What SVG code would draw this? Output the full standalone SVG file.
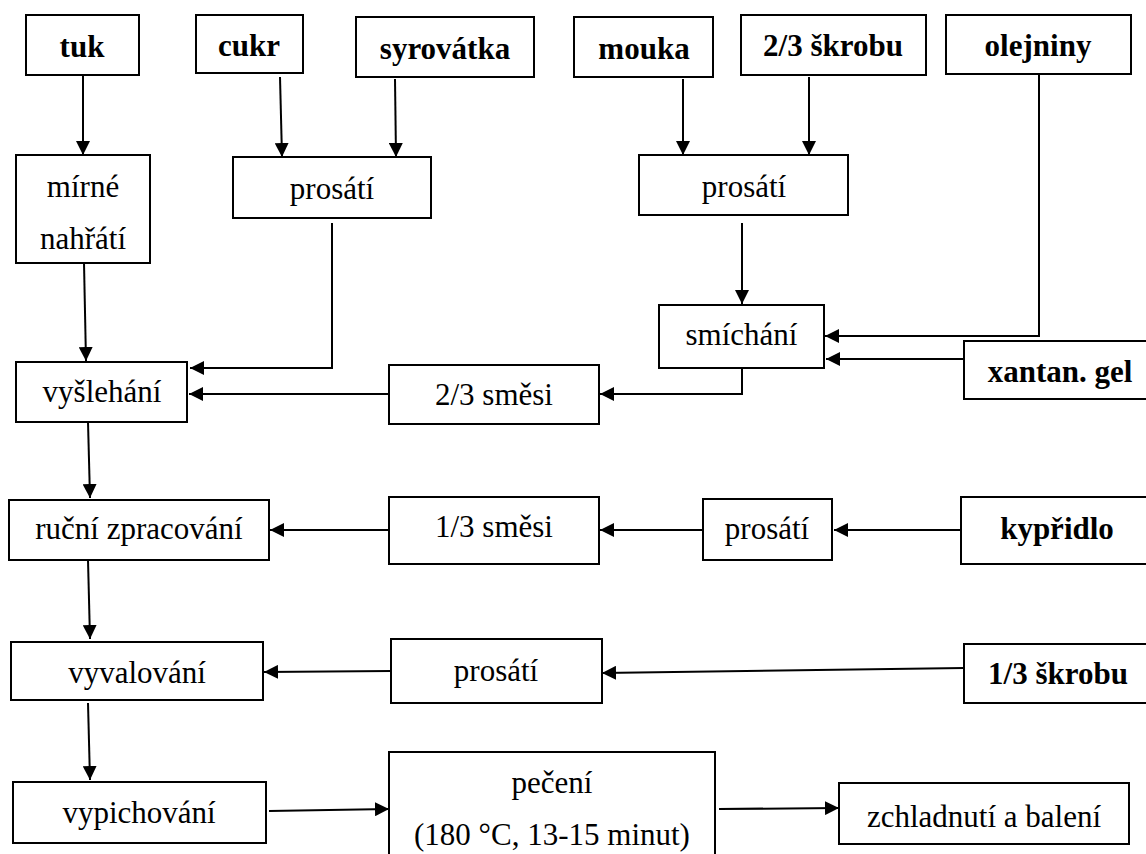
<svg xmlns="http://www.w3.org/2000/svg" width="1146" height="854" viewBox="0 0 1146 854">
<defs>
<marker id="ah" markerUnits="userSpaceOnUse" markerWidth="15" markerHeight="14" refX="14" refY="7" orient="auto">
<path d="M0,0 L14,7 L0,14 z" fill="#000"/>
</marker>
<style>
.b{fill:#fff;stroke:#000;stroke-width:2}
.t{font-family:"Liberation Serif","Times New Roman",serif;font-size:31px;fill:#000;text-anchor:middle}
.bd{font-weight:bold}
.c{fill:none;stroke:#000;stroke-width:2;marker-end:url(#ah)}
</style>
</defs>
<rect width="1146" height="854" fill="#fff"/>
<g id="connectors">
<path class="c" d="M83,75 L83,155"/>
<path class="c" d="M280,77 L282,157"/>
<path class="c" d="M395,79 L396,157"/>
<path class="c" d="M683,79 L683,155"/>
<path class="c" d="M809,77 L809,155"/>
<path class="c" d="M84,263 L86,361"/>
<path class="c" d="M332,223 L332,368 L190,368"/>
<path class="c" d="M1039,74 L1039,336 L825,336"/>
<path class="c" d="M742,223 L742,304"/>
<path class="c" d="M964,359 L826,359"/>
<path class="c" d="M742,368 L742,394 L600,394"/>
<path class="c" d="M389,394 L189,394"/>
<path class="c" d="M88,422 L90,498"/>
<path class="c" d="M389,530 L270,530"/>
<path class="c" d="M703,530 L600,530"/>
<path class="c" d="M961,530 L834,530"/>
<path class="c" d="M88,560 L90,639"/>
<path class="c" d="M391,671 L264,672"/>
<path class="c" d="M964,668 L602,673"/>
<path class="c" d="M88,703 L90,780"/>
<path class="c" d="M269,811 L389,809"/>
<path class="c" d="M719,809 L839,808"/>
</g>
<g id="tuk"><rect class="b" x="26" y="15" width="113" height="60"/><text class="t bd" x="82" y="57">tuk</text></g>
<g id="cukr"><rect class="b" x="196" y="15" width="107" height="58"/><text class="t bd" x="249" y="56">cukr</text></g>
<g id="syrovatka"><rect class="b" x="356" y="17" width="178" height="60"/><text class="t bd" x="445" y="59">syrovátka</text></g>
<g id="mouka"><rect class="b" x="574" y="17" width="139" height="60"/><text class="t bd" x="644" y="59">mouka</text></g>
<g id="skrob23"><rect class="b" x="741" y="15" width="185" height="60"/><text class="t bd" x="833" y="56">2/3 škrobu</text></g>
<g id="olejniny"><rect class="b" x="946" y="15" width="185" height="59"/><text class="t bd" x="1038" y="56">olejniny</text></g>
<g id="nahrati"><rect class="b" x="16" y="155" width="134" height="108"/><text class="t" x="83" y="197">mírné</text><text class="t" x="83" y="249">nahřátí</text></g>
<g id="prosati1"><rect class="b" x="233" y="157" width="198" height="61"/><text class="t" x="332" y="199">prosátí</text></g>
<g id="prosati2"><rect class="b" x="639" y="155" width="209" height="60"/><text class="t" x="744" y="197">prosátí</text></g>
<g id="smichani"><rect class="b" x="659" y="305" width="165" height="63"/><text class="t" x="741.5" y="345">smíchání</text></g>
<g id="xantan"><rect class="b" x="964" y="341" width="192" height="58"/><text class="t bd" x="1060" y="382">xantan. gel</text></g>
<g id="smesi23"><rect class="b" x="389" y="365" width="210" height="59"/><text class="t" x="494" y="405">2/3 směsi</text></g>
<g id="vyslehani"><rect class="b" x="16" y="362" width="171" height="60"/><text class="t" x="102" y="402">vyšlehání</text></g>
<g id="rucni"><rect class="b" x="9" y="500" width="260" height="60"/><text class="t" x="139" y="539">ruční zpracování</text></g>
<g id="smesi13"><rect class="b" x="389" y="497" width="210" height="67"/><text class="t" x="494" y="537">1/3 směsi</text></g>
<g id="prosati3"><rect class="b" x="703" y="499" width="129" height="61"/><text class="t" x="767" y="539">prosátí</text></g>
<g id="kypridlo"><rect class="b" x="961" y="497" width="195" height="67"/><text class="t bd" x="1057" y="539">kypřidlo</text></g>
<g id="vyvalovani"><rect class="b" x="11" y="642" width="252" height="58"/><text class="t" x="137" y="683">vyvalování</text></g>
<g id="prosati4"><rect class="b" x="391" y="639" width="211" height="64"/><text class="t" x="496" y="681">prosátí</text></g>
<g id="skrob13"><rect class="b" x="964" y="644" width="192" height="59"/><text class="t bd" x="1058" y="684">1/3 škrobu</text></g>
<g id="vypichovani"><rect class="b" x="13" y="782" width="253" height="61"/><text class="t" x="139" y="823">vypichování</text></g>
<g id="peceni"><rect class="b" x="389" y="752" width="326" height="120"/><text class="t" x="552" y="793">pečení</text><text class="t" x="552" y="845">(180 °C, 13-15 minut)</text></g>
<g id="zchladnuti"><rect class="b" x="839" y="783" width="290" height="61"/><text class="t" x="984" y="827">zchladnutí a balení</text></g>
</svg>
